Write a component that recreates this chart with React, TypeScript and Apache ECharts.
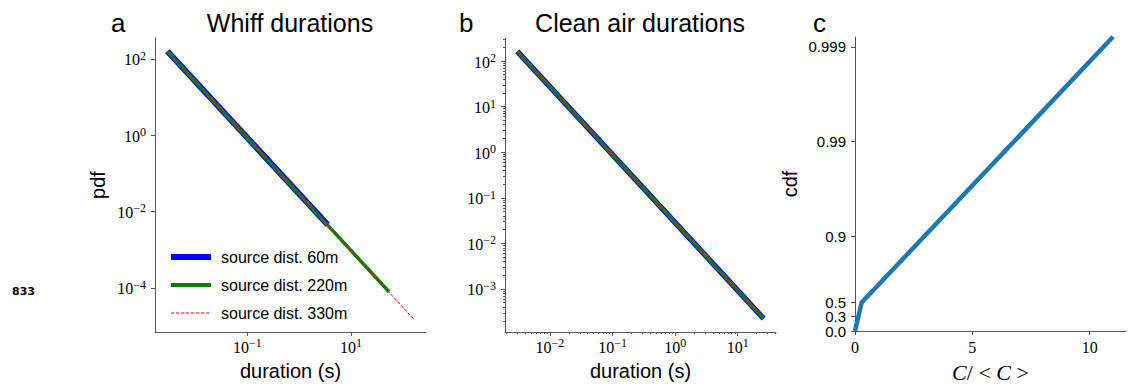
import React, { useEffect, useRef } from 'react';
import * as echarts from 'echarts';

// ---- data ----
// panel a: whiff durations (s) and pdf values (end points of each straight log-log segment)
const whiffDuration60 = [0.00288, 3.56];
const whiffPdf60 = [157, 0.0045];
const whiffDuration220 = [0.00288, 54.3];
const whiffPdf220 = [157, 0.000079];
const whiffDuration330 = [0.00288, 160];
const whiffPdf330 = [157, 0.0000155];

// panel b: clean air durations (s) and pdf values
const cleanDuration60 = [0.003, 26];
const cleanPdf60 = [163, 0.000223];
const cleanDuration220 = [0.003, 26];
const cleanPdf220 = [163, 0.000223];
const cleanDuration330 = [0.003, 26];
const cleanPdf330 = [163, 0.000223];

// panel c: concentration ratio and cdf
const concRatio = [0, 0.285, 11];
const concCdf = [0, 0.5, 0.99922];

// tick values
const whiffXTicks = [0.1, 10];
const whiffYTicks = [1e-4, 1e-2, 1, 100];
const cleanXTicks = [0.01, 0.1, 1, 10];
const cleanYTicks = [0.001, 0.01, 0.1, 1, 10, 100];
const cdfXTicks = [0, 5, 10];
const cdfYTicks = [0, 0.3, 0.5, 0.9, 0.99, 0.999];
const cdfYLabels = ['0.0', '0.3', '0.5', '0.9', '0.99', '0.999'];

const legendNames = ['source dist. 60m', 'source dist. 220m', 'source dist. 330m'];

const lg = (v: number) => Math.round(Math.log10(v) * 1e9) / 1e9;
const probT = (p: number) => -Math.log(1 - p);

const minorLogTicks = (lo: number, hi: number) => {
  const out: number[] = [];
  for (let d = Math.floor(lo) - 1; d <= Math.ceil(hi); d++) {
    for (let k = 2; k <= 9; k++) {
      const v = d + Math.log10(k);
      if (v > lo && v < hi) out.push(v);
    }
  }
  return out;
};

const SPINE = '#555';
const SERIF = '"Liberation Serif", "DejaVu Serif", serif';
const SANS = '"Liberation Sans", "DejaVu Sans", sans-serif';

const logRich = {
  b: { fontFamily: SERIF, fontSize: 16, color: '#000', lineHeight: 18, verticalAlign: 'bottom' },
  s: { fontFamily: SERIF, fontSize: 12, color: '#000', lineHeight: 11, verticalAlign: 'top' },
};
const logFmt = (v: number) => {
  const e = Math.round(v);
  return `{b|10}{s|${e < 0 ? '\u2212' : ''}${Math.abs(e)}}`;
};

const zip = (xs: number[], ys: number[], fx: (v: number) => number, fy: (v: number) => number) =>
  xs.map((x, i) => [fx(x), fy(ys[i])]);

function logAxis(grid: number, min: number, max: number, ticks: number[], isX: boolean, name?: string, nameGap?: number) {
  const vals = ticks.map(lg);
  return {
    type: 'value',
    gridIndex: grid,
    min,
    max,
    position: isX ? 'bottom' : 'left',
    splitLine: { show: false },
    axisLine: { show: true, onZero: false, lineStyle: { color: SPINE, width: 1 } },
    axisTick: { show: true, customValues: vals, length: 4, lineStyle: { color: SPINE, width: 1 } },
    axisLabel: { show: true, customValues: vals, formatter: logFmt, rich: logRich, margin: isX ? 5 : 9, hideOverlap: false },
    name,
    nameLocation: 'middle',
    nameGap,
    nameRotate: isX ? 0 : 90,
    nameTextStyle: { fontFamily: SANS, fontSize: 20, color: '#000' },
  };
}

function minorAxis(grid: number, min: number, max: number, isX: boolean) {
  return {
    type: 'value',
    gridIndex: grid,
    min,
    max,
    position: isX ? 'bottom' : 'left',
    splitLine: { show: false },
    axisLine: { show: false, onZero: false },
    axisTick: { show: true, customValues: minorLogTicks(min, max), length: 2, lineStyle: { color: SPINE, width: 1 } },
    axisLabel: { show: false },
  };
}

const titleStyle = (size: number) => ({ fontFamily: SANS, fontSize: size, fontWeight: 'normal', color: '#000' });

export default function App() {
  const ref = useRef<HTMLDivElement>(null);
  useEffect(() => {
    if (!ref.current) return;
    const chart = echarts.init(ref.current, undefined, { renderer: 'svg' });

    const aX = [-2.78, 2.448];
    const aY = [-5.158, 2.545];
    const bX = [-2.719, 1.612];
    const bY = [-3.945, 2.505];

    const cYVals = cdfYTicks.map(probT);
    // split labels over two overlaid axes so that the tightly packed ones are all kept
    const cYMain = cYVals.filter((_, i) => i !== 1);
    const cYAlt = [cYVals[1]];

    const cdfFmt = (v: number) => {
      let best = 0;
      cYVals.forEach((c, i) => { if (Math.abs(c - v) < Math.abs(cYVals[best] - v)) best = i; });
      return cdfYLabels[best];
    };
    const cdfLabel = (vals: number[]) => ({
      show: true,
      customValues: vals,
      margin: 9,
      fontFamily: SANS,
      fontSize: 15,
      lineHeight: 13,
      color: '#000',
      showMinLabel: true,
      showMaxLabel: true,
      hideOverlap: false,
      formatter: cdfFmt,
    });

    const lineSeries = (name: string, xi: number, yi: number, data: number[][], color: string, width: number, type: any, z: number) => ({
      type: 'line',
      name,
      xAxisIndex: xi,
      yAxisIndex: yi,
      data,
      symbol: 'none',
      showSymbol: false,
      z,
      itemStyle: { color },
      lineStyle: { color, width, type, cap: 'butt' },
    });

    const option: any = {
      animation: false,
      backgroundColor: '#fff',
      title: [
        { text: 'a', left: 111, top: 10, padding: 0, textStyle: titleStyle(26) },
        { text: 'Whiff durations', left: 290, top: 10, padding: 0, textAlign: 'center', textStyle: titleStyle(25) },
        { text: 'b', left: 459, top: 10, padding: 0, textStyle: titleStyle(26) },
        { text: 'Clean air durations', left: 640, top: 10, padding: 0, textAlign: 'center', textStyle: titleStyle(25) },
        { text: 'c', left: 813, top: 10, padding: 0, textStyle: titleStyle(26) },
      ],
      legend: {
        orient: 'vertical',
        left: 168,
        top: 249,
        padding: 0,
        itemWidth: 40,
        itemHeight: 14,
        itemGap: 12,
        selectedMode: false,
        textStyle: { fontFamily: SANS, fontSize: 16, color: '#000', lineHeight: 14, padding: [0, 0, 0, 5] },
        data: [
          { name: legendNames[0], lineStyle: { width: 6, color: '#0000ff' }, itemStyle: { color: 'rgba(0,0,0,0)', borderWidth: 0, opacity: 0 } },
          { name: legendNames[1], lineStyle: { width: 4, color: '#008000' }, itemStyle: { color: 'rgba(0,0,0,0)', borderWidth: 0, opacity: 0 } },
          { name: legendNames[2], lineStyle: { width: 1, color: '#ff0000', type: [3.5, 1.5] }, itemStyle: { color: 'rgba(0,0,0,0)', borderWidth: 0, opacity: 0 } },
        ],
      },
      grid: [
        { left: 155, top: 38, width: 271, height: 294 },
        { left: 505, top: 38, width: 271, height: 294 },
        { left: 855, top: 37, width: 271, height: 295 },
      ],
      xAxis: [
        logAxis(0, aX[0], aX[1], whiffXTicks, true, 'duration (s)', 29),
        logAxis(1, bX[0], bX[1], cleanXTicks, true, 'duration (s)', 29),
        minorAxis(1, bX[0], bX[1], true),
        {
          type: 'value',
          gridIndex: 2,
          min: 0,
          max: 11.55,
          splitLine: { show: false },
          axisLine: { show: true, onZero: false, lineStyle: { color: SPINE, width: 1 } },
          axisTick: { show: true, customValues: cdfXTicks, length: 4, lineStyle: { color: SPINE, width: 1 } },
          axisLabel: { show: true, customValues: cdfXTicks, margin: 8, fontFamily: SERIF, fontSize: 16, color: '#000', showMinLabel: true },
          name: '{i|C}{r|/ < }{i|C}{r| >}',
          nameLocation: 'middle',
          nameGap: 30,
          nameTextStyle: {
            rich: {
              i: { fontFamily: SERIF, fontStyle: 'italic', fontSize: 22, color: '#000' },
              r: { fontFamily: SERIF, fontSize: 22, color: '#000' },
            },
          },
        },
      ],
      yAxis: [
        logAxis(0, aY[0], aY[1], whiffYTicks, false, 'pdf', 47),
        logAxis(1, bY[0], bY[1], cleanYTicks, false),
        minorAxis(1, bY[0], bY[1], false),
        {
          type: 'value',
          gridIndex: 2,
          min: 0,
          max: 7.15,
          position: 'left',
          splitLine: { show: false },
          axisLine: { show: true, onZero: false, lineStyle: { color: SPINE, width: 1 } },
          axisTick: { show: true, customValues: cYMain, length: 4, lineStyle: { color: SPINE, width: 1 } },
          axisLabel: cdfLabel(cYMain),
          name: 'cdf',
          nameLocation: 'middle',
          nameRotate: 90,
          nameGap: 55,
          nameTextStyle: { fontFamily: SANS, fontSize: 20, color: '#000' },
        },
        {
          type: 'value',
          gridIndex: 2,
          min: 0,
          max: 7.15,
          position: 'left',
          splitLine: { show: false },
          axisLine: { show: false, onZero: false },
          axisTick: { show: true, customValues: cYAlt, length: 4, lineStyle: { color: SPINE, width: 1 } },
          axisLabel: cdfLabel(cYAlt),
        },
      ],
      series: [
        lineSeries(legendNames[0], 0, 0, zip(whiffDuration60, whiffPdf60, lg, lg), '#0000ff', 6, 'solid', 2),
        lineSeries(legendNames[1], 0, 0, zip(whiffDuration220, whiffPdf220, lg, lg), '#008000', 3.5, 'solid', 3),
        lineSeries(legendNames[2], 0, 0, zip(whiffDuration330, whiffPdf330, lg, lg), '#ff0000', 1, [3.5, 1.5], 4),
        lineSeries('clean 60m', 1, 1, zip(cleanDuration60, cleanPdf60, lg, lg), '#0000ff', 5.5, 'solid', 2),
        lineSeries('clean 220m', 1, 1, zip(cleanDuration220, cleanPdf220, lg, lg), '#008000', 3.5, 'solid', 3),
        lineSeries('clean 330m', 1, 1, zip(cleanDuration330, cleanPdf330, lg, lg), '#ff0000', 1, [3.5, 1.5], 4),
        lineSeries('cdf', 3, 3, zip(concRatio, concCdf, (v) => v, probT), '#1f77b4', 4.5, 'solid', 2),
      ],
      graphic: [
        {
          type: 'text',
          left: 12,
          top: 286,
          style: { text: '833', font: 'bold 11px "DejaVu Sans"', fill: '#000' },
        },
      ],
    };

    chart.setOption(option);
    return () => chart.dispose();
  }, []);

  return (
    <div
      ref={ref}
      style={{ position: 'absolute', left: 0, top: 0, width: 1138, height: 388, background: '#fff' }}
    />
  );
}
